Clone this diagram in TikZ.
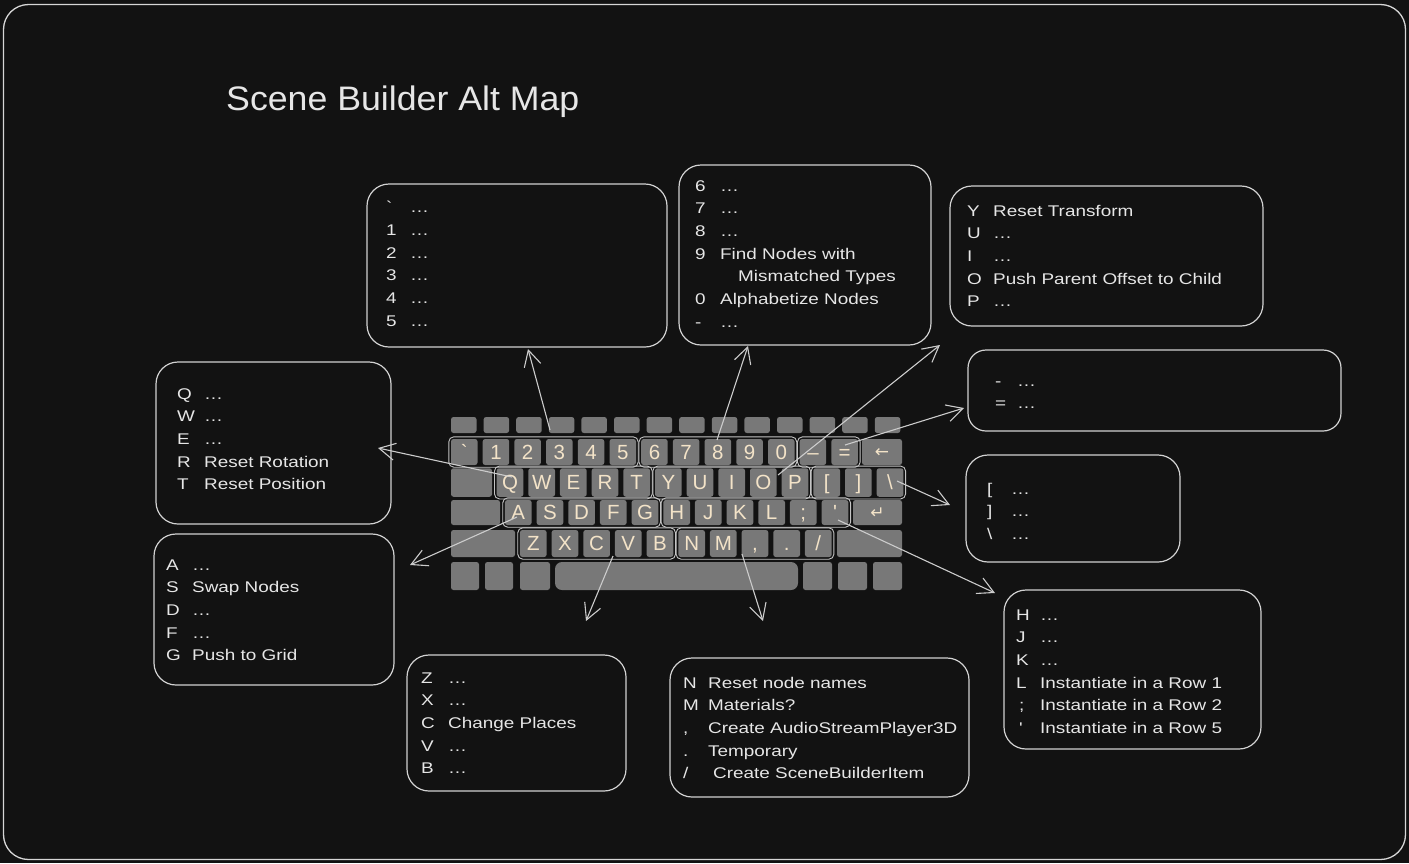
\documentclass[tikz,border=0pt]{standalone}
\usepackage{fontspec}
\setmainfont{Liberation Sans}[FakeStretch=1.22]
\newfontfamily\titlefont{Liberation Sans}[FakeStretch=1.05]
\newfontfamily\keyfont{Liberation Sans}
\newfontfamily\symfont{DejaVu Sans}
\usetikzlibrary{arrows.meta,fit}
\definecolor{bg}{HTML}{121212}
\definecolor{framecol}{HTML}{D6D6D6}
\definecolor{boxcol}{HTML}{D2D2D2}
\definecolor{txtcol}{HTML}{E6E6E6}
\definecolor{keygray}{HTML}{787878}
\definecolor{keytext}{HTML}{F3E3C8}
\definecolor{grpcol}{HTML}{C4C4C4}
\definecolor{arrcol}{HTML}{CCCCCC}
\begin{document}
\begin{tikzpicture}[x=1pt,y=-1pt,
  key/.style={fill=keygray, rounded corners=2.5pt, inner sep=0pt, text=keytext,
              text height=14.5pt, text depth=0pt,
              font=\keyfont\fontsize{20.5}{20.5}\selectfont},
  grp/.style={draw=grpcol, line width=0.9pt, rounded corners=5pt, inner sep=2pt},
  box/.style={draw=boxcol, line width=1.2pt, rounded corners=22pt, inner sep=0pt},
  txt/.style={anchor=base west, inner sep=0pt, text=txtcol,
              font=\fontsize{15.5}{22.7}\selectfont},
  arr/.style={draw=arrcol, line width=1.1pt, -{Straight Barb[length=16pt,width=17pt,line width=1.1pt]}},
  frame/.style={draw=framecol, line width=1.3pt, rounded corners=25pt}]
\useasboundingbox (0,0) rectangle (1409,863);
\fill[bg] (0,0) rectangle (1409,863);
\draw[frame] (3.5,4.5) rectangle (1405.5,859.5);

% title
\node[anchor=base west, inner sep=0pt, text=txtcol, font=\titlefont\fontsize{34}{34}\selectfont] (title) at (226,110) {Scene Builder Alt Map};

% ---------- keyboard ----------
% row 0
\foreach \i in {0,...,13} {
  \node[key, minimum width=25.5, minimum height=16, text height=0pt] (r0k\i) at ({463.75+32.6*\i},425) {};
}
% row 1
\foreach \lab [count=\i from 0] in {\textasciigrave,1,2,3,4,5,6,7,8,9,0,\textendash,=} {
  \node[key, minimum width=26.5, minimum height=26] (r1k\i) at ({464.25+31.7*\i},452) {\lab};
}
\node[key, minimum width=40, minimum height=26, text height=11pt] (bksp) at (882,452) {\symfont\fontsize{17}{17}\selectfont ←};
% row 2
\node[key, minimum width=41, minimum height=28.5] (tab) at (471.5,482.5) {};
\foreach \lab [count=\i from 0] in {Q,W,E,R,T,Y,U,I,O,P,{[},{]},\textbackslash} {
  \node[key, minimum width=26.7, minimum height=28.5] (r2k\i) at ({510+31.67*\i},482.5) {\lab};
}
% row 3
\node[key, minimum width=49, minimum height=25] (caps) at (475.5,512.5) {};
\foreach \lab [count=\i from 0] in {A,S,D,F,G,H,J,K,L,;,\textquotesingle} {
  \node[key, minimum width=26.7, minimum height=25] (r3k\i) at ({518.3+31.67*\i},512.5) {\lab};
}
\node[key, minimum width=49, minimum height=25, text height=12pt] (enter) at (877.5,512.5) {\symfont\fontsize{17}{17}\selectfont ↵};
% row 4
\node[key, minimum width=64, minimum height=27] (lshift) at (483,543.5) {};
\foreach \lab [count=\i from 0] in {Z,X,C,V,B,N,M,{,},.,/} {
  \node[key, minimum width=26.7, minimum height=27] (r4k\i) at ({533.3+31.67*\i},543.5) {\lab};
}
\node[key, minimum width=65, minimum height=27] (rshift) at (869.5,543.5) {};
% row 5
\node[key, minimum width=28, minimum height=28] (r5a) at (465,576) {};
\node[key, minimum width=28, minimum height=28] (r5b) at (499,576) {};
\node[key, minimum width=30, minimum height=28] (r5c) at (535,576) {};
\node[key, minimum width=243, minimum height=28, rounded corners=7pt] (space) at (676.5,576) {};
\node[key, minimum width=29, minimum height=28] (r5d) at (817.5,576) {};
\node[key, minimum width=29, minimum height=28] (r5e) at (852.5,576) {};
\node[key, minimum width=29, minimum height=28] (r5f) at (887.5,576) {};

% key groups
\node[grp, fit=(r1k0)(r1k5)] (g1) {};
\node[grp, fit=(r1k6)(r1k10)] (g2) {};
\node[grp, fit=(r1k11)(r1k12)] (g3) {};
\node[grp, fit=(r2k0)(r2k4)] (g4) {};
\node[grp, fit=(r2k5)(r2k9)] (g5) {};
\node[grp, fit=(r2k10)(r2k12)] (g6) {};
\node[grp, fit=(r3k0)(r3k4)] (g7) {};
\node[grp, fit=(r3k5)(r3k10)] (g8) {};
\node[grp, fit=(r4k0)(r4k4)] (g9) {};
\node[grp, fit=(r4k5)(r4k9)] (g10) {};

% ---------- boxes ----------
\node[box, minimum width=300, minimum height=163] (b1) at (517,265.5) {};
\node[box, minimum width=252, minimum height=180] (b2) at (805,255) {};
\node[box, minimum width=313, minimum height=140] (b3) at (1106.5,256) {};
\node[box, minimum width=373, minimum height=81, rounded corners=18pt] (b4) at (1154.5,390.5) {};
\node[box, minimum width=214, minimum height=107] (b5) at (1073,508.5) {};
\node[box, minimum width=257, minimum height=159] (b6) at (1132.5,669.5) {};
\node[box, minimum width=235, minimum height=162] (b7) at (273.5,443) {};
\node[box, minimum width=240, minimum height=151] (b8) at (274,609.5) {};
\node[box, minimum width=219, minimum height=136] (b9) at (516.5,723) {};
\node[box, minimum width=299, minimum height=139] (b10) at (819.5,727.5) {};

% ---------- box texts ----------
\node[txt] (t1) at (386,212.6) {\begin{tabular}[t]{@{}p{24pt}@{}l@{}}
\textasciigrave & …\\ 1 & …\\ 2 & …\\ 3 & …\\ 4 & …\\ 5 & …\end{tabular}};
\node[txt] (t2) at (695,191) {\begin{tabular}[t]{@{}p{25pt}@{}l@{}}
6 & …\\ 7 & …\\ 8 & …\\ 9 & Find Nodes with\\ & \hspace{18pt}Mismatched Types\\ 0 & Alphabetize Nodes\\ - & …\end{tabular}};
\node[txt] (t3) at (967,216) {\begin{tabular}[t]{@{}p{26pt}@{}l@{}}
Y & Reset Transform\\ U & …\\ I & …\\ O & Push Parent Offset to Child\\ P & …\end{tabular}};
\node[txt] (t4) at (995,386) {\begin{tabular}[t]{@{}p{22pt}@{}l@{}}
- & …\\ = & …\end{tabular}};
\node[txt] (t5) at (987,494) {\begin{tabular}[t]{@{}p{24pt}@{}l@{}}
[ & …\\ ] & …\\ \textbackslash & …\end{tabular}};
\node[txt] (t6) at (1016,620) {\begin{tabular}[t]{@{}p{24pt}@{}l@{}}
H & …\\ J & …\\ K & …\\ L & Instantiate in a Row 1\\ \hspace{3pt}; & Instantiate in a Row 2\\ \hspace{3pt}\textquotesingle & Instantiate in a Row 5\end{tabular}};
\node[txt] (t7) at (177,399) {\begin{tabular}[t]{@{}p{27pt}@{}l@{}}
Q & …\\ W & …\\ E & …\\ R & Reset Rotation\\ T & Reset Position\end{tabular}};
\node[txt] (t8) at (166,570) {\begin{tabular}[t]{@{}p{26pt}@{}l@{}}
A & …\\ S & Swap Nodes\\ D & …\\ F & …\\ G & Push to Grid\end{tabular}};
\node[txt] (t9) at (421,683) {\begin{tabular}[t]{@{}p{27pt}@{}l@{}}
Z & …\\ X & …\\ C & Change Places\\ V & …\\ B & …\end{tabular}};
\node[txt] (t10) at (683,688) {\begin{tabular}[t]{@{}p{25pt}@{}l@{}}
N & Reset node names\\ M & Materials?\\ , & Create AudioStreamPlayer3D\\ . & Temporary\\ / & \hspace{5pt}Create SceneBuilderItem\end{tabular}};

% ---------- arrows ----------
\coordinate (s1) at (550,430);  \coordinate (e1) at (528,349);
\coordinate (s2) at (717,440);  \coordinate (e2) at (748,346);
\coordinate (s3) at (778,475);  \coordinate (e3) at (940,345);
\coordinate (s4) at (845,445);  \coordinate (e4) at (964,408);
\coordinate (s5) at (897,481);  \coordinate (e5) at (950,505);
\coordinate (s6) at (512,477);  \coordinate (e6) at (378,448);
\coordinate (s7) at (517,517);  \coordinate (e7) at (410,565);
\coordinate (s8) at (613,556);  \coordinate (e8) at (586,621);
\coordinate (s9) at (742,554);  \coordinate (e9) at (763,621);
\coordinate (s10) at (838,520); \coordinate (e10) at (995,593);
\foreach \n in {1,...,10} { \draw[arr] (s\n) -- (e\n); }
\end{tikzpicture}
\end{document}
